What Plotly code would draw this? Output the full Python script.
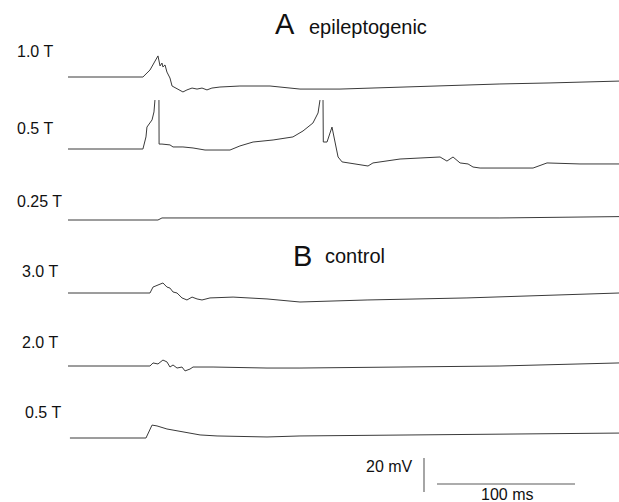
import numpy as np
import plotly.graph_objects as go

nan = float("nan")

# ---- data: time (ms) and membrane potential change (mV) ----
labels = ["1.0 T", "0.5 T", "0.25 T", "3.0 T", "2.0 T", "0.5 T"]

a10_t = [0.0, 54.3, 59.4, 65.2, 66.7, 68.1, 68.8, 70.3, 71.7, 73.9, 75.4, 79.0, 83.3, 86.2, 89.9,
         93.5, 97.1, 100.7, 104.3, 110.1, 124.6, 146.4, 168.1, 197.1, 240.6, 276.8, 313.0, 349.3, 399.3]
a10_v = [0.0, 0.0, 4.1, 12.4, 6.5, 8.2, 5.9, 7.1, 2.9, -0.6, -5.3, -7.1, -8.8, -7.6, -6.5,
         -7.1, -6.5, -7.6, -6.5, -5.9, -5.3, -5.3, -7.1, -7.1, -5.9, -5.3, -4.1, -3.5, -2.4]

a05_t = [0.0, 54.3, 56.5, 57.2, 60.9, 62.3, 63.0, nan, 65.9, 66.0, 68.1, 73.9, 76.1, 83.3, 90.6,
         99.3, 117.4, 124.6, 134.1, 148.6, 163.0, 170.3, 177.5, 181.2, 182.6, nan, 184.8, 185.0,
         187.7, 191.3, 193.5, 195.7, 198.6, 204.3, 211.6, 217.4, 221.0, 231.2, 240.6, 255.1,
         269.6, 274.6, 279.0, 284.1, 289.9, 293.5, 298.6, 337.0, 347.1, 371.0, 399.3]
a05_v = [0.0, 0.0, 7.1, 12.9, 17.1, 21.8, 28.8, nan, 28.8, 2.9, 2.9, 2.4, 1.2, 1.2, 0.6,
         -0.6, -0.6, 1.8, 4.1, 5.3, 7.1, 10.6, 15.3, 21.2, 28.8, nan, 28.8, 4.1,
         4.1, 12.9, 4.1, -4.7, -7.6, -8.2, -9.4, -10.0, -8.2, -7.1, -5.9, -5.3,
         -4.7, -7.1, -4.7, -8.2, -8.8, -10.6, -11.2, -11.2, -8.2, -8.8, -8.8]

a025_t = [0.0, 65.2, 68.1, 168.1, 313.0, 399.3]
a025_v = [0.0, 0.0, 1.2, 1.2, 1.2, 2.0]

b30_t = [0.0, 59.4, 61.6, 65.2, 68.8, 71.7, 73.9, 76.1, 79.0, 82.6, 86.2, 89.9, 93.5, 97.1,
         102.9, 119.6, 144.2, 168.1, 216.7, 289.1, 337.0, 399.3]
b30_v = [0.0, 0.0, 3.5, 4.7, 5.9, 3.5, 2.9, 0.6, 0.0, -2.9, -4.1, -2.4, -3.5, -4.1,
         -2.9, -2.4, -3.5, -5.3, -4.1, -2.9, -1.8, 0.0]

b20_t = [0.0, 59.4, 61.6, 65.2, 68.8, 71.7, 73.9, 76.1, 79.0, 82.6, 84.8, 88.4, 90.6, 105.1,
         144.2, 168.1, 240.6, 313.0, 399.3]
b20_v = [0.0, 0.0, 1.8, 1.2, 3.5, 2.4, -0.6, 0.6, -1.2, -0.6, -2.9, -1.8, -0.6, -0.6,
         -1.2, -1.2, -0.6, 0.0, 1.8]

b05_t = [1.4, 56.5, 60.9, 64.5, 71.7, 83.3, 95.7, 108.0, 144.2, 168.1, 313.0, 399.3]
b05_v = [0.0, 0.0, 7.6, 7.1, 5.3, 3.5, 1.8, 1.2, 0.6, 1.2, 2.4, 2.9]

scale_mv = 20
scale_ms = 100

# ---- layout constants ----
W, H = 619, 502
PX_PER_MS = 1.38
PX_PER_MV = 1.7
X0_PX = 68
baselines_px = [77, 149, 220, 293, 366, 438]
offsets = [-b / PX_PER_MV for b in baselines_px]
label_pos = [(15, 51), (15, 128), (15, 201), (20, 271), (20, 342), (23, 412)]

series = [(a10_t, a10_v), (a05_t, a05_v), (a025_t, a025_v),
          (b30_t, b30_v), (b20_t, b20_v), (b05_t, b05_v)]

FONT = "Liberation Sans, Arial, Helvetica, sans-serif"
fig = go.Figure()
for (t, v), off in zip(series, offsets):
    fig.add_trace(go.Scatter(
        x=t, y=[vv + off for vv in v], mode="lines",
        line=dict(color="#3a3a3a", width=1.0), connectgaps=False,
        hoverinfo="skip", showlegend=False))

# scale bars
bar_t = (424 - X0_PX) / PX_PER_MS
bar_v0 = -492 / PX_PER_MV
fig.add_trace(go.Scatter(x=[bar_t, bar_t], y=[bar_v0, bar_v0 + scale_mv], mode="lines",
                         line=dict(color="#6a6a6a", width=1.2), showlegend=False, hoverinfo="skip"))
hb_t0 = (437 - X0_PX) / PX_PER_MS
hb_v = -484 / PX_PER_MV
fig.add_trace(go.Scatter(x=[hb_t0, hb_t0 + scale_ms], y=[hb_v, hb_v], mode="lines",
                         line=dict(color="#5a5a5a", width=1.1), showlegend=False, hoverinfo="skip"))

def pa(x, y, text, size, xanchor="left", yanchor="middle"):
    fig.add_annotation(x=x / W, y=1 - y / H, xref="paper", yref="paper", text=text,
                       showarrow=False, xanchor=xanchor, yanchor=yanchor,
                       font=dict(family=FONT, size=size, color="#111"))

for lab, (lx, ly) in zip(labels, label_pos):
    pa(lx, ly, lab, 16)

pa(273, 24, "A", 29)
pa(307, 27, "epileptogenic", 20)
pa(291, 256, "B", 29)
pa(323, 256, "control", 20)
pa(415, 466, "20 mV", 16, xanchor="right")
pa(507, 494, "100 ms", 16, xanchor="center")

fig.update_layout(
    width=W, height=H, margin=dict(l=0, r=0, t=0, b=0),
    paper_bgcolor="white", plot_bgcolor="white",
    xaxis=dict(range=[-X0_PX / PX_PER_MS, (W - X0_PX) / PX_PER_MS], visible=False, fixedrange=True),
    yaxis=dict(range=[-H / PX_PER_MV, 0], visible=False, fixedrange=True),
)
fig.write_html("out.html", config={"displayModeBar": False},
               post_script="document.body.style.margin='0';document.body.style.overflow='hidden';")
